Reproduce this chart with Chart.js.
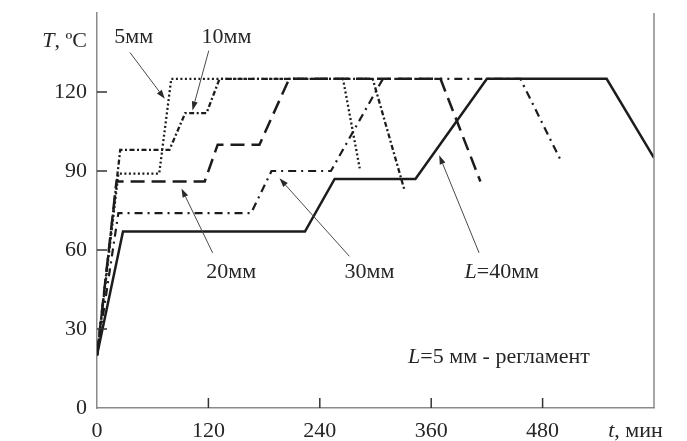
<!DOCTYPE html>
<html><head><meta charset="utf-8">
<script src="https://cdn.jsdelivr.net/npm/chart.js@4/dist/chart.umd.min.js"></script>
<style>html,body{margin:0;padding:0;background:#fff;}#wrap{width:687px;height:441px;position:relative;}</style>
</head><body><div id="wrap"><canvas id="c"></canvas></div>
<script>
// Tick values
const xTicks = [0, 120, 240, 360, 480];
const yTicks = [0, 30, 60, 90, 120];
// Series: time (min) and temperature (°C) for each thickness L
const t5  = [0, 23, 67, 80, 265, 283];
const T5  = [20, 89, 89, 125, 125, 91];
const t10 = [0, 25, 78, 95, 118, 132, 297, 331];
const T10 = [20, 98, 98, 112, 112, 125, 125, 83];
const t20 = [0, 21, 116, 130, 175, 207, 370, 413];
const T20 = [20, 86, 86, 100, 100, 125, 125, 86];
const t30 = [0, 23, 166, 188, 252, 308, 456, 501];
const T30 = [20, 74, 74, 90, 90, 125, 125, 93];
const t40 = [0, 28, 224, 256, 343, 420, 549, 600];
const T40 = [20, 67, 67, 87, 87, 125, 125, 95];
const seriesNames = ['5мм', '10мм', '20мм', '30мм', 'L=40мм'];

const pts = (t, T) => t.map((v, i) => ({x: v, y: T[i]}));
const SERIF = '"Liberation Serif", "Times New Roman", serif';
const INK = '#1c1c1c';
const AX = '#8a8a8a';
const FS = 22;

function ds(label, t, T, dash, w) {
  return {label, data: pts(t, T), showLine: true, borderColor: INK, borderWidth: w,
    borderDash: dash, pointRadius: 0, tension: 0, fill: false, borderCapStyle: 'butt', borderJoinStyle: 'miter'};
}

// annotations in data coordinates
const labels = [
  {parts: [['', '5мм']], x: 39.5, y: 138.5},
  {parts: [['', '10мм']], x: 139.5, y: 138.5},
  {parts: [['', '20мм']], x: 144.5, y: 49.5},
  {parts: [['', '30мм']], x: 293.5, y: 49.5},
  {parts: [['i', 'L'], ['', '=40мм']], x: 436, y: 49.5},
  {parts: [['i', 'L'], ['', '=5 мм - регламент']], x: 433, y: 17}
];
const arrows = [
  {from: [35.5, 135], to: [73, 117.4]},
  {from: [120.4, 135.7], to: [102.8, 113]},
  {from: [124.6, 58.9], to: [91, 83.4]},
  {from: [271.9, 57.6], to: [196.6, 87.2]},
  {from: [411.6, 58.9], to: [368.6, 96]}
];

function drawParts(ctx, parts, cx, baseY, size) {
  let total = 0;
  const widths = parts.map(p => {
    ctx.font = (p[0] === 'i' ? 'italic ' : '') + size + 'px ' + SERIF;
    const w = ctx.measureText(p[1]).width; total += w; return w;
  });
  let x = cx - total / 2;
  parts.forEach((p, i) => {
    ctx.font = (p[0] === 'i' ? 'italic ' : '') + size + 'px ' + SERIF;
    ctx.fillText(p[1], x, baseY);
    x += widths[i];
  });
}

const deco = {
  id: 'deco',
  afterDraw(chart) {
    const {ctx, chartArea: a, scales: {x, y}} = chart;
    ctx.save();
    // right border
    ctx.strokeStyle = AX; ctx.lineWidth = 1.5;
    ctx.beginPath(); ctx.moveTo(a.right, a.top); ctx.lineTo(a.right, a.bottom); ctx.stroke();
    // inward tick marks
    ctx.lineWidth = 1.5; ctx.strokeStyle = '#333';
    yTicks.forEach(v => { if (v === 0) return; const py = y.getPixelForValue(v);
      ctx.beginPath(); ctx.moveTo(a.left, py); ctx.lineTo(a.left + 10, py); ctx.stroke(); });
    xTicks.forEach(v => { if (v === 0) return; const px = x.getPixelForValue(v);
      ctx.beginPath(); ctx.moveTo(px, a.bottom); ctx.lineTo(px, a.bottom - 10); ctx.stroke(); });
    // arrows
    ctx.strokeStyle = '#4a4a4a'; ctx.fillStyle = '#2a2a2a'; ctx.lineWidth = 1;
    arrows.forEach(ar => {
      const x0 = x.getPixelForValue(ar.from[0]), y0 = y.getPixelForValue(ar.from[1]);
      const x1 = x.getPixelForValue(ar.to[0]), y1 = y.getPixelForValue(ar.to[1]);
      const ang = Math.atan2(y1 - y0, x1 - x0);
      const L = 9, W = 3;
      const bx = x1 - L * Math.cos(ang), by = y1 - L * Math.sin(ang);
      ctx.beginPath(); ctx.moveTo(x0, y0); ctx.lineTo(bx, by); ctx.stroke();
      ctx.beginPath(); ctx.moveTo(x1, y1);
      ctx.lineTo(bx + W * Math.sin(ang), by - W * Math.cos(ang));
      ctx.lineTo(bx - W * Math.sin(ang), by + W * Math.cos(ang));
      ctx.closePath(); ctx.fill();
    });
    // labels
    ctx.fillStyle = '#262626'; ctx.textBaseline = 'alphabetic'; ctx.textAlign = 'left';
    labels.forEach(l => drawParts(ctx, l.parts, x.getPixelForValue(l.x), y.getPixelForValue(l.y), FS));
    // axis titles
    ctx.font = 'italic ' + FS + 'px ' + SERIF;
    const tW = ctx.measureText('T').width;
    ctx.font = FS + 'px ' + SERIF;
    const rW = ctx.measureText(', ºC').width;
    const tx = a.left - 10 - rW - tW;
    ctx.font = 'italic ' + FS + 'px ' + SERIF; ctx.fillText('T', tx, 47);
    ctx.font = FS + 'px ' + SERIF; ctx.fillText(', ºC', tx + tW, 47);
    const cx = x.getPixelForValue(580);
    drawParts(ctx, [['i', 't'], ['', ', мин']], cx, 437, FS);
    ctx.restore();
  }
};

new Chart(document.getElementById('c'), {
  type: 'scatter',
  data: {datasets: [
    ds(seriesNames[0], t5, T5, [2, 2.5], 2.3),
    ds(seriesNames[1], t10, T10, [5, 2.5, 2, 2.5], 2.3),
    ds(seriesNames[2], t20, T20, [14, 7], 2.5),
    ds(seriesNames[3], t30, T30, [8, 5, 2, 5], 2.2),
    ds(seriesNames[4], t40, T40, [], 2.5)
  ]},
  options: {
    responsive: true, maintainAspectRatio: false, animation: false,
    layout: {padding: {top: 13, right: 33, left: 0, bottom: 0}},
    plugins: {legend: {display: false}, tooltip: {enabled: false}},
    scales: {
      x: {type: 'linear', min: 0, max: 600,
        afterBuildTicks: s => { s.ticks = xTicks.concat([600]).map(v => ({value: v})); },
        afterFit: s => { s.height = 33; s.paddingLeft = 0; s.paddingRight = 0; },
        ticks: {callback: v => v === 600 ? '' : v, color: '#262626', padding: 10, maxRotation: 0,
          font: {family: SERIF, size: FS}},
        grid: {display: true, drawOnChartArea: false, drawTicks: false},
        border: {display: true, color: AX, width: 1.5}},
      y: {type: 'linear', min: 0, max: 150,
        afterBuildTicks: s => { s.ticks = yTicks.concat([150]).map(v => ({value: v})); },
        afterFit: s => { s.width = 97; s.paddingTop = 0; s.paddingBottom = 0; },
        ticks: {callback: v => v === 150 ? '' : v, color: '#262626', padding: 10,
          font: {family: SERIF, size: FS}},
        grid: {display: true, drawOnChartArea: false, drawTicks: false},
        border: {display: true, color: AX, width: 1.5}}
    }
  },
  plugins: [deco]
});
</script></body></html>
